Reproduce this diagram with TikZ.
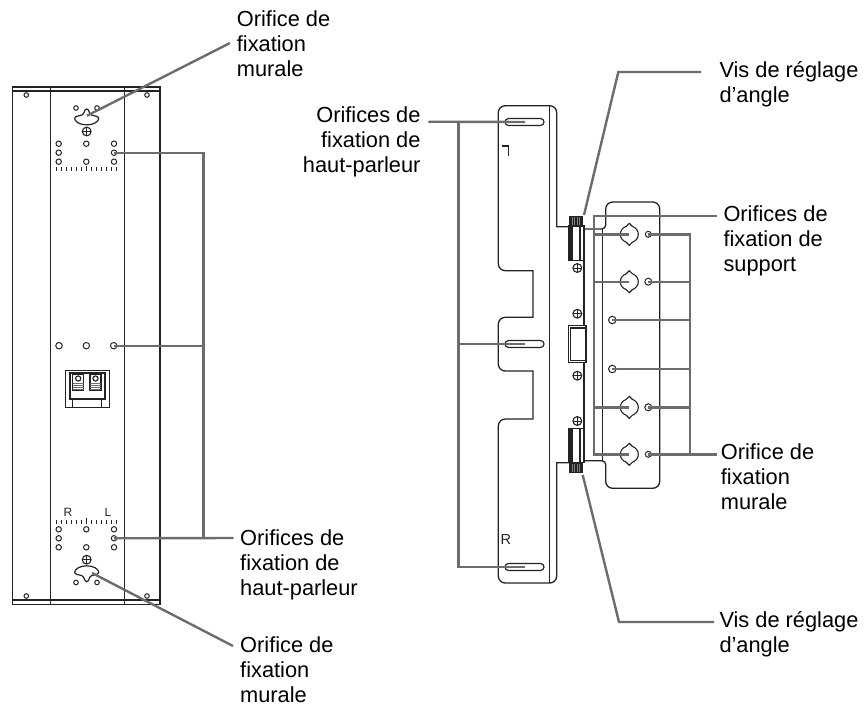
\documentclass[tikz,border=0pt]{standalone}
\usepackage{fontspec}
\setmainfont{Liberation Sans}
\definecolor{leadgray}{RGB}{108,108,108}
\definecolor{inkdark}{RGB}{35,35,35}
\newcommand{\labelfont}{\fontsize{21.8}{25}\selectfont}
\begin{document}
\begin{tikzpicture}[x=1pt,y=-1pt]
                \useasboundingbox (0,0) rectangle (868,709);
                \tikzset{
                    outline/.style={draw=inkdark, line width=1.1pt},
                    hole/.style={circle, draw=inkdark, line width=1pt, inner sep=0pt, minimum size=5.4pt},
                    smallhole/.style={hole, minimum size=4.6pt},
                    slot/.style={rectangle, draw=inkdark, line width=1.2pt, rounded corners=3.5pt, inner sep=0pt, minimum width=39pt, minimum height=7pt},
                    bind/.style={draw=leadgray, line width=2.4pt},
                    caption/.style={align=left, inner sep=0pt, anchor=north west, text=black, font=\labelfont},
                    captionr/.style={caption, align=right, anchor=north east},
                    letter/.style={inner sep=0pt, anchor=base west, text=inkdark}
                }

                % cabinet
                \draw[outline, line width=1.5pt] (12.7,87) rectangle (160,604.3);
                \draw[outline] (12.7,91) -- (160,91);
                \draw[outline] (12.7,600) -- (160,600);
                \draw[outline] (50.3,87) -- (50.3,604.3);
                \draw[outline] (124.7,87) -- (124.7,604.3);
                \foreach \x/\y in {26.3/95, 147/95, 26.3/596, 147/596, 76/108, 97/108, 76/582.5, 97/582.5}
                    \node[smallhole] at (\x,\y) {};
                \foreach \y in {143.7,152.7,161.7,529.3,538.3,547.3}
                    \node[hole] at (58.7,\y) {};
                \foreach \y in {143.7,161.7,529.3,547.3}
                    \node[hole] at (86.3,\y) {};
                \node[hole] (CT) at (114,152.7) {};
                \node[hole] (CB) at (114,538.3) {};
                \node[hole] at (114,143.7) {};
                \node[hole] at (114,161.7) {};
                \node[hole] at (114,529.3) {};
                \node[hole] at (114,547.3) {};
                \node[hole, minimum size=6.5pt] at (59,345.7) {};
                \node[hole, minimum size=6.5pt] at (86.3,345.7) {};
                \node[hole, minimum size=6.5pt] (CM) at (113.7,345.7) {};

                % scale marks
                \foreach \x in {-30,-25,...,30} {
                    \draw[inkdark, line width=1.3pt] (86.7+\x,167.3) -- (86.7+\x,170.7);
                    \draw[inkdark, line width=1.3pt] (86.7+\x,520) -- (86.7+\x,523.7);
                }
                \draw[inkdark, line width=0.9pt] (86.7,165.5) -- (86.7,170.7);
                \draw[inkdark, line width=0.9pt] (86.7,518) -- (86.7,523.7);
                \node[letter, font=\fontsize{12}{12}\selectfont] (MR) at (63.3,516.7) {R};
                \node[letter, font=\fontsize{12}{12}\selectfont] (ML) at (104.5,516.7) {L};

                % cabinet keyholes
                \coordinate (KT) at (87,115.7);
                \coordinate (KB) at (92,573);
                \foreach \c/\f in {118.7/1, 572/-1}
                    \draw[outline, line width=1.2pt, shift={(86.7,\c)}, yscale=\f] (0,-9.7) .. controls (2.6,-9.7) and (2,-4.6) .. (5,-3.6) .. controls (8,-2.8) and (12,-2.5) .. (12,-0.2) .. controls (12,2.8) and (7,6.2) .. (0,6.2) .. controls (-7,6.2) and (-12,2.8) .. (-12,-0.2) .. controls (-12,-2.5) and (-8,-2.8) .. (-5,-3.6) .. controls (-2,-4.6) and (-2.6,-9.7) .. (0,-9.7) -- cycle;

                % terminal
                \draw[outline, line width=1.2pt] (65.7,370.7) rectangle (109.3,407.7);
                \draw[outline] (70,373) rectangle (105,399);
                \draw[outline] (72.7,399) -- (72.7,407.7);
                \draw[outline] (101.7,399) -- (101.7,407.7);
                \foreach \x in {72.7,90} {
                    \draw[outline, line width=1.2pt, fill=white] (\x,374) rectangle (\x+11,390.7);
                    \draw[outline, fill=white] (\x+5.5,378.5) circle (2.6pt);
                    \foreach \y in {383.5,385.5,387.5,389.5}
                        \draw[leadgray, line width=1.1pt] (\x,\y) -- (\x+11,\y);
                }

                % speaker plate
                \draw[outline, line width=1.3pt] (568.3,226.7) -- (556.7,226.7) [rounded corners=7pt] -- (556.7,105.7) -- (498.3,105.7) -- (498.3,270.7) [sharp corners] -- (533,270.7) -- (533,317.3) [rounded corners=7pt] -- (498.3,317.3) -- (498.3,371) [sharp corners] -- (533,371) -- (533,419) [rounded corners=7pt] -- (498.3,419) -- (498.3,583) -- (556.7,583) [sharp corners] -- (556.7,462.7) -- (569,462.7);
                \draw[outline] (549.7,105.7) -- (549.7,583);
                \node[slot] (S1) at (524.5,122) {};
                \node[slot] (S2) at (524.5,344) {};
                \node[slot] (S3) at (524.5,567) {};
                \coordinate (E1) at (525,122);
                \coordinate (E2) at (525,344);
                \coordinate (E3) at (525,567);
                \draw[outline] (502.3,146) -- (508.5,146) -- (508.5,155.7);
                \node[letter, font=\fontsize{14.5}{14.5}\selectfont] (PR) at (500.3,544) {R};

                % wall plate
                \draw[outline, line width=1.3pt] (584,229) -- (601,229) [rounded corners=4pt] -- (605.7,229) [rounded corners=7pt] -- (605.7,202) -- (659.7,202) -- (659.7,488.3) -- (605.7,488.3) [rounded corners=4pt] -- (605.7,460.7) [sharp corners] -- (584,460.7);
                \draw[outline] (602.7,229) -- (602.7,460.7);
                \draw[inkdark, line width=2pt] (583.5,260) -- (583.5,429);

                % adjusters
                \foreach \t/\b/\kt in {226/260.7/216, 428.7/462.7/463} {
                    \draw[outline, line width=1.1pt, fill=white] (568.3,\t) rectangle (584,\b);
                    \fill[inkdark] (568.3,\t) rectangle (573,\b);
                    \draw[outline] (580,\t) -- (580,\b);
                    \fill[inkdark] (569.3,\kt) rectangle (582.7,\kt+10.3);
                    \foreach \x in {572,574.5,577,579.5}
                        \draw[gray, line width=0.6pt] (\x,\kt+1) -- (\x,\kt+9);
                }
                \draw[outline, line width=1.4pt, fill=white] (568.3,325.7) rectangle (586,362.7);
                \draw[outline, fill=white] (570.8,328) rectangle (586,360.4);

                % screws
                \foreach \x/\y in {86.7/131.5, 86.7/559.7, 577.3/268, 577.3/313.7, 577.3/375.7, 577.3/421} {
                    \draw[outline, fill=white] (\x,\y) circle (4.4pt);
                    \draw[inkdark, line width=0.8pt] (\x-4.4,\y) -- (\x+4.4,\y);
                    \draw[inkdark, line width=0.8pt] (\x,\y-4.4) -- (\x,\y+4.4);
                }

                % lens holes
                \foreach \n/\y in {1/234.3, 2/281.7, 3/407.3, 4/454.3} {
                    \coordinate (L\n) at (629.3,\y);
                    \draw[outline, shift={(629.3,\y)}] (0,-11) -- (3,-8) .. controls (11,-5) and (11,5) .. (3,8) -- (0,11) -- (-3,8) .. controls (-11,5) and (-11,-5) .. (-3,-8) -- cycle;
                }
                \node[hole, minimum size=6pt] (W1) at (648.3,234.3) {};
                \node[hole, minimum size=7pt] (W2) at (648.3,281.7) {};
                \node[hole, minimum size=7.5pt] (W3) at (612.3,320) {};
                \node[hole, minimum size=7.5pt] (W4) at (612.3,369) {};
                \node[hole, minimum size=7pt] (W5) at (648.3,407.3) {};
                \node[hole, minimum size=6pt] (W6) at (648.3,454.3) {};

                % captions
                \node[caption] (A1) at (236.7,11) {Orifice de\\fixation\\murale};
                \node[caption] (A2) at (240,529.3) {Orifices de\\fixation de\\haut-parleur};
                \node[caption] (A3) at (240,636) {Orifice de\\fixation\\murale};
                \node[captionr] (B1) at (420.7,107) {Orifices de\\fixation de\\haut-parleur};
                \node[caption] (C1) at (719.3,61.7) {Vis de réglage\\d’angle};
                \node[caption] (C2) at (723.3,205.3) {Orifices de\\fixation de\\support};
                \node[caption] (C3) at (720.7,443.6) {Orifice de\\fixation\\murale};
                \node[caption] (C4) at (719.3,611.6) {Vis de réglage\\d’angle};

                % leaders
                \coordinate (TA1) at (230,43);
                \coordinate (TA3) at (233,646);
                \coordinate (JL) at (203.5,538);
                \coordinate (TA2) at (233.5,538);
                \coordinate (JB) at (458.3,121.7);
                \coordinate (TB) at (428.3,121.7);
                \coordinate (SC1) at (584,215);
                \coordinate (BC1) at (618.3,72);
                \coordinate (TC1) at (701,72);
                \coordinate (SC4) at (582.7,475);
                \coordinate (BC4) at (619,622);
                \coordinate (TC4) at (714,622);
                \coordinate (TL) at (594,216);
                \coordinate (TC2) at (717.3,216);
                \coordinate (JR) at (690,454.3);
                \coordinate (TC3) at (717,454.3);

                \draw[bind] (KT) -- (TA1);
                \draw[bind] (KB) -- (TA3);
                \draw[bind] (CT.center) -| (JL);
                \draw[bind] (CM.center) -- (CM.center -| JL);
                \draw[bind] (CB.center) -- (TA2);
                \draw[bind] (TB) -- (E1);
                \draw[bind] (JB) |- (E3);
                \draw[bind] (E2 -| JB) -- (E2);
                \draw[bind] (SC1) -- (BC1) -- (TC1);
                \draw[bind] (SC4) -- (BC4) -- (TC4);
                \draw[bind] (TC2) -- (TL) |- (L4);
                \draw[bind] (TL |- L1) -- (L1);
                \draw[bind] (TL |- L2) -- (L2);
                \draw[bind] (TL |- L3) -- (L3);
                \draw[bind] (W1.center) -| (JR);
                \draw[bind] (W6.center) -- (TC3);
                \foreach \n in {W2,W3,W4,W5}
                    \draw[bind] (\n.center) -- (\n.center -| JR);
            \end{tikzpicture}
\end{document}
